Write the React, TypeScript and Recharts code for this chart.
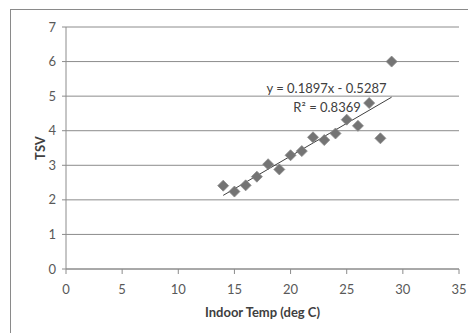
import React from 'react';
import { ScatterChart, Scatter, XAxis, YAxis, CartesianGrid, ReferenceLine, ReferenceDot, Label } from 'recharts';

const indoorTemp = [14, 15, 16, 17, 18, 19, 20, 21, 22, 23, 24, 25, 26, 27, 28, 29];
const tsv = [2.41, 2.24, 2.42, 2.67, 3.03, 2.88, 3.29, 3.41, 3.81, 3.73, 3.92, 4.32, 4.14, 4.8, 3.78, 6.0];
const trendStart = { x: 14, y: 2.13 };
const trendEnd = { x: 29, y: 4.97 };
const xTicks = [0, 5, 10, 15, 20, 25, 30, 35];
const yTicks = [0, 1, 2, 3, 4, 5, 6, 7];
const equationText = 'y = 0.1897x - 0.5287';
const r2Text = 'R\u00B2 = 0.8369';
const xTitle = 'Indoor Temp (deg C)';
const yTitle = 'TSV';

const points = indoorTemp.map((x, i) => ({ x, y: tsv[i] }));

const FONT = 'Lato, "Open Sans", sans-serif';

const Diamond = (props: any) => {
  const { cx, cy } = props;
  if (cx == null || cy == null) return null;
  const h = 5.5;
  return (
    <polygon
      points={`${cx},${cy - h} ${cx + h},${cy} ${cx},${cy + h} ${cx - h},${cy}`}
      fill="#747474"
      stroke="#8a8a8a"
      strokeWidth={0.8}
    />
  );
};

export default function App() {
  return (
    <div style={{ position: 'absolute', left: 0, top: 0, width: 468, height: 333, overflow: 'hidden', background: '#fff' }}>
      <div
        style={{
          position: 'absolute',
          left: 10,
          top: 9,
          width: 480,
          height: 360,
          border: '1px solid #8a8a8a',
          boxSizing: 'border-box',
        }}
      />
      <div style={{ position: 'absolute', left: 0, top: 0 }}>
        <ScatterChart width={468} height={333} margin={{ top: 27, right: 9, bottom: 24, left: 16 }}>
          <CartesianGrid vertical={false} stroke="#8c8c8c" strokeWidth={1} />
          <XAxis
            type="number"
            dataKey="x"
            domain={[0, 35]}
            ticks={xTicks}
            interval={0}
            height={40}
            stroke="#8c8c8c"
            tickSize={5}
            tickMargin={11}
            tick={{ fill: '#595959', fontSize: 13, fontFamily: FONT }}
          >
            <Label
              value={xTitle}
              position="bottom"
              offset={-1}
              style={{ fill: '#404040', fontSize: 13, fontWeight: 'bold', fontFamily: FONT }}
            />
          </XAxis>
          <YAxis
            type="number"
            dataKey="y"
            domain={[0, 7]}
            ticks={yTicks}
            interval={0}
            width={50}
            stroke="#8c8c8c"
            tickSize={4}
            tickMargin={6}
            tick={{ fill: '#595959', fontSize: 13, fontFamily: FONT }}
          >
            <Label
              value={yTitle}
              angle={-90}
              position="insideLeft"
              offset={24}
              style={{ fill: '#404040', fontSize: 13, fontWeight: 'bold', fontFamily: FONT, textAnchor: 'middle' }}
            />
          </YAxis>
          <ReferenceLine
            segment={[trendStart, trendEnd]}
            stroke="#404040"
            strokeWidth={1}
            ifOverflow="visible"
          />
          <Scatter data={points} shape={Diamond} isAnimationActive={false} />
          <ReferenceDot x={23.2} y={5.23} r={0} fill="none" stroke="none" ifOverflow="visible">
            <Label value={equationText} position="center" style={{ fill: '#404040', fontSize: 13, fontFamily: FONT }} />
          </ReferenceDot>
          <ReferenceDot x={23.25} y={4.68} r={0} fill="none" stroke="none" ifOverflow="visible">
            <Label value={r2Text} position="center" style={{ fill: '#404040', fontSize: 13, fontFamily: FONT }} />
          </ReferenceDot>
        </ScatterChart>
      </div>
    </div>
  );
}
